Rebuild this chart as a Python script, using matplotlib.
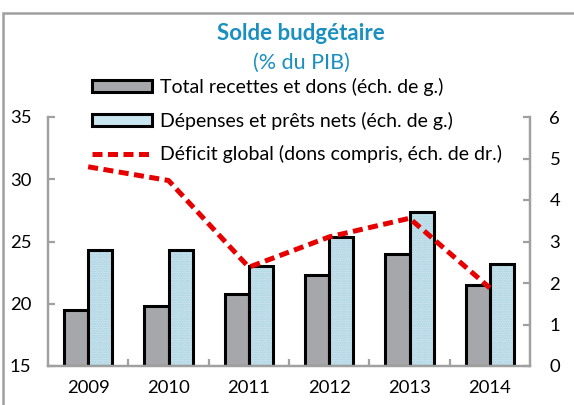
import matplotlib
matplotlib.use("Agg")
import matplotlib.pyplot as plt
import numpy as np
from matplotlib.patches import Rectangle, Patch
from matplotlib.lines import Line2D

years = ["2009", "2010", "2011", "2012", "2013", "2014"]
recettes = [19.5, 19.8, 20.8, 22.3, 24.0, 21.5]
depenses = [24.3, 24.3, 23.0, 25.4, 27.4, 23.2]
deficit = [4.8, 4.47, 2.38, 3.11, 3.56, 1.88]

plt.rcParams['font.family'] = ['Lato', 'DejaVu Sans']

title_color = '#1a8fc0'
grey = '#a6a7aa'
lblue = '#c9e5ef'
spine_c = '#a0a0a0'

fig = plt.figure(figsize=(5.74, 4.05), dpi=100)
ax = fig.add_axes([48/574, 1-366/405, (530-48)/574, (366-117)/405])
ax2 = ax.twinx()

x = np.arange(len(years))
w = 0.3
ax.bar(x - w/2, [r - 15 for r in recettes], w, bottom=15, color=grey,
       edgecolor='black', linewidth=2.2, zorder=2)
ax.bar(x + w/2, [d - 15 for d in depenses], w, bottom=15, color=lblue,
       edgecolor='#a9d0de', linewidth=0, hatch='.......', zorder=2)
ax.bar(x + w/2, [d - 15 for d in depenses], w, bottom=15, color='none',
       edgecolor='black', linewidth=2.2, zorder=2.1)

ax2.plot(x, deficit, color='#e60000', linewidth=3.6, dashes=(2.0, 1.1),
         solid_capstyle='butt', zorder=3)

ax.set_xlim(-0.5, 5.5)
ax.set_ylim(15, 35)
ax2.set_ylim(0, 6)
ax.set_yticks([15, 20, 25, 30, 35])
ax2.set_yticks(range(0, 7))
ax.set_xticks(x)
ax.set_xticklabels(years)
ax.set_xticks(np.arange(0.5, 5.5, 1), minor=True)

for a in (ax, ax2):
    for s in a.spines.values():
        s.set_color(spine_c)
        s.set_linewidth(1.6)
        s.set_zorder(5)
    a.spines['top'].set_visible(False)
    a.set_facecolor('none')

ax.tick_params(axis='x', which='major', length=0, pad=10, labelsize=13.3)
ax.tick_params(axis='x', which='minor', length=5, direction='in',
               color=spine_c, width=1.6)
ax.tick_params(axis='y', direction='in', length=5, color=spine_c, width=1.6,
               pad=12, labelsize=13.3)
ax2.tick_params(axis='y', direction='in', length=5, color=spine_c, width=1.6,
                pad=14, labelsize=13.3)

# title
fig.text(301/574, 1-33/405, "Solde budgétaire", ha='center', va='center',
         fontsize=16, fontweight='bold', color=title_color)
fig.text(301/574, 1-63/405, "(% du PIB)", ha='center', va='center',
         fontsize=15.5, color=title_color)

# legend
handles = [
    Patch(facecolor=grey, edgecolor='black', linewidth=2.2),
    Patch(facecolor=lblue, edgecolor='black', linewidth=2.2),
    Line2D([0], [0], color='#e60000', linewidth=3.6, dashes=(2.0, 1.1)),
]
labels = ["Total recettes et dons (éch. de g.)",
          "Dépenses et prêts nets (éch. de g.)",
          "Déficit global (dons compris, éch. de dr.)"]
leg = fig.legend(handles, labels, loc='upper left',
                 bbox_to_anchor=(92/574, 1-78/405), frameon=False,
                 fontsize=14, handlelength=3.1, handleheight=0.6,
                 handletextpad=0.4, labelspacing=0.8, borderpad=0,
                 borderaxespad=0)

# outer frame
fig.patches.append(Rectangle((3/574, -0.05), 1.2, 1 - 13/405 + 0.05,
                             transform=fig.transFigure, fill=False,
                             edgecolor=spine_c, linewidth=1.8))

fig.savefig("out.png", dpi=100)
